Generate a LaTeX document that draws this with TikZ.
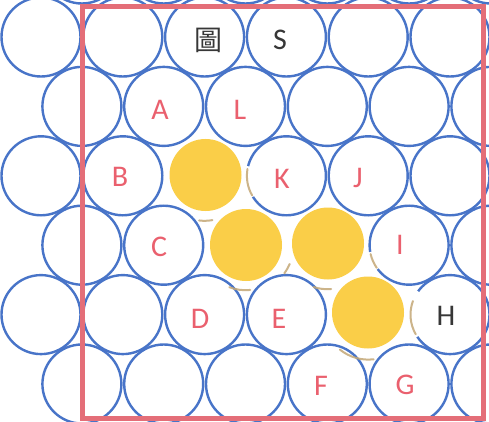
\documentclass[tikz,border=0pt]{standalone}
\usepackage{fontspec}
\setmainfont{Carlito}
\newfontfamily\cjkfont{Noto Sans CJK TC}
\definecolor{ballblue}{RGB}{72,116,200}
\definecolor{boxred}{RGB}{228,110,120}
\definecolor{lblred}{RGB}{234,96,110}
\definecolor{goldfill}{RGB}{250,206,72}
\definecolor{tanc}{RGB}{196,168,118}
\definecolor{darktxt}{RGB}{55,55,55}
\tikzset{
  ball/.style={draw=ballblue, line width=2.4pt},
  goldball/.style={fill=goldfill},
  tanline/.style={draw=tanc, line width=2pt, line cap=round, opacity=0.85},
  wipe/.style={draw=white, line width=4pt},
  frame/.style={draw=boxred, line width=5pt},
  lbl/.style={text=lblred, font=\fontsize{30}{30}\selectfont, inner sep=0pt},
  dlbl/.style={text=darktxt, font=\fontsize{30}{30}\selectfont, inner sep=0pt},
  cjklbl/.style={text=darktxt, font=\cjkfont\fontsize{28}{28}\selectfont, inner sep=0pt}
}
\begin{document}
\begin{tikzpicture}[x=1pt,y=-1pt]
\useasboundingbox (0,0) rectangle (489,422);
\clip (0,0) rectangle (489,422);
\fill[white] (0,0) rectangle (489,422);
% blue balls
\foreach \x in {81.9,163.7,245.5,327.3,409.1,490.9} \draw[ball] (\x,-36) circle[radius=39.5];
\foreach \x in {41,122.8,204.6,286.4,368.2,450} \draw[ball] (\x,37) circle[radius=39.5];
\foreach \x in {81.9,163.7,245.5,327.3,409.1,490.9} \draw[ball] (\x,106.4) circle[radius=39.5];
\foreach \x in {41,122.8,286.4,368.2,450} \draw[ball] (\x,175.8) circle[radius=39.5];
\foreach \x in {81.9,163.7,409.1,490.9} \draw[ball] (\x,245.2) circle[radius=39.5];
\foreach \x in {41,122.8,204.6,286.4,450} \draw[ball] (\x,314.6) circle[radius=39.5];
\foreach \x in {81.9,163.7,245.5,327.3,409.1,490.9} \draw[ball] (\x,384) circle[radius=39.5];
% faded edges next to the gold balls
\draw[wipe] (286.4,175.8) ++(148:39.5) arc[start angle=148, end angle=194, radius=39.5];
\draw[tanline] (286.4,175.8) ++(150:39.5) arc[start angle=150, end angle=190, radius=39.5];
\draw[wipe] (409.1,245.2) ++(143:39.5) arc[start angle=143, end angle=170, radius=39.5];
\draw[tanline] (409.1,245.2) ++(145:39.5) arc[start angle=145, end angle=167, radius=39.5];
\draw[wipe] (450,314.6) ++(146:39.5) arc[start angle=146, end angle=216, radius=39.5];
\draw[tanline] (450,314.6) ++(150:39.5) arc[start angle=150, end angle=200, radius=39.5];
\draw[tanline] (204.6,175.8) ++(80:45) arc[start angle=80, end angle=97, radius=45];
\draw[tanline] (245.5,245.2) ++(84:45) arc[start angle=84, end angle=111, radius=45];
\draw[tanline] (245.5,245.2) ++(23:48) arc[start angle=23, end angle=36, radius=48];
\draw[tanline] (327.3,245.2) ++(85:44) arc[start angle=85, end angle=108, radius=44];
\draw[tanline] (368.2,314.6) ++(83:45) arc[start angle=83, end angle=129, radius=45];
% gold balls
\fill[goldball] (205.5,175) circle[radius=36];
\fill[goldball] (246,245) circle[radius=36];
\fill[goldball] (328,243.5) circle[radius=36];
\fill[goldball] (368,312.5) circle[radius=36];
% frame
\draw[frame] (82.5,6.5) rectangle (483.5,418.5);
% labels
\node[cjklbl] (tu) at (208,40) {圖};
\node[dlbl] (S) at (280,40) {S};
\node[lbl] (A) at (160,110) {A};
\node[lbl] (L) at (240,110) {L};
\node[lbl] (B) at (120,177) {B};
\node[lbl] (K) at (282,179) {K};
\node[lbl] (J) at (358,178) {J};
\node[lbl] (C) at (159,247) {C};
\node[lbl] (I) at (400,245) {I};
\node[lbl] (D) at (200,319) {D};
\node[lbl] (E) at (279,319) {E};
\node[dlbl] (H) at (446,316) {H};
\node[lbl] (F) at (321,386) {F};
\node[lbl] (G) at (405,385) {G};
\end{tikzpicture}
\end{document}
